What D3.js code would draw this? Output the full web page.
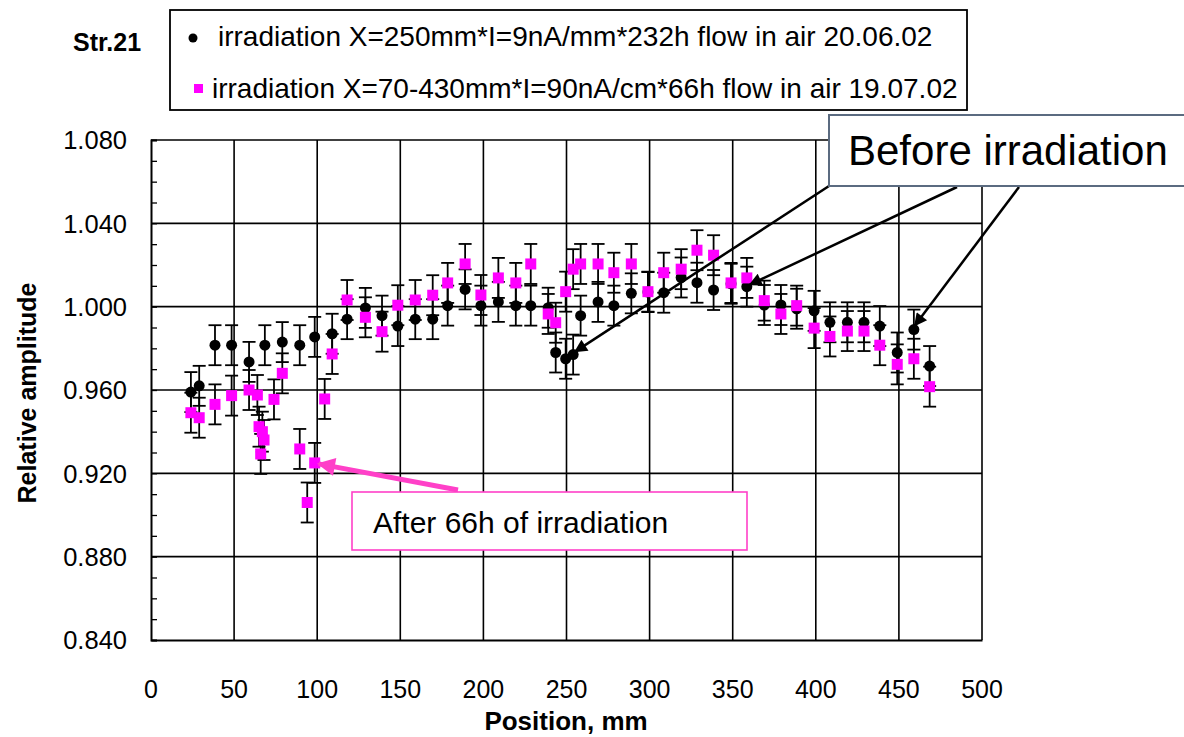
<!DOCTYPE html>
<html>
<head>
<meta charset="utf-8">
<script src="https://cdn.jsdelivr.net/npm/d3@7"></script>
<style>
  body { margin: 0; background: #fff; }
  text { font-family: "Liberation Sans", Arial, sans-serif; }
</style>
</head>
<body>
<svg id="main" width="1184" height="737"></svg>
<script>
// irradiation X=250mm, 20.06.02 (black circles)
const blackPos = [24, 29, 38.5, 48.5, 59, 68.5, 79, 89.5, 98.5, 109, 118, 129, 139, 148.5, 159, 169.5, 178.5, 189, 198.5, 209, 219.5, 228.5, 239, 243.5, 249.5, 254, 258.5, 269, 278.5, 289, 299, 308.5, 319, 328.5, 338.5, 349, 358.5, 369, 379, 388.5, 399, 408.5, 419, 429, 438.5, 449, 459, 468.5];
const blackAmp = [0.959, 0.962, 0.9815, 0.9815, 0.9735, 0.9815, 0.983, 0.9815, 0.9855, 0.987, 0.994, 0.9994, 0.9957, 0.9907, 0.994, 0.994, 1.0005, 1.0083, 1.0005, 1.0023, 1.0005, 1.0005, 0.9995, 0.978, 0.975, 0.977, 0.9957, 1.0023, 1.0005, 1.0064, 1.007, 1.0067, 1.014, 1.0115, 1.008, 1.011, 1.0096, 1.0008, 1.0008, 0.999, 0.998, 0.9925, 0.9925, 0.9925, 0.9907, 0.978, 0.989, 0.9715];
// irradiation X=70-430mm, 19.07.02 (magenta squares)
const pinkPos = [24, 29, 38.5, 48.5, 59, 64, 65, 67, 68, 66, 74, 79, 89.5, 94, 98.5, 104.5, 109, 118, 129, 139, 148.5, 159, 169.5, 178.5, 189, 198.5, 209, 219.5, 228.5, 239, 243.5, 249.5, 254, 258.5, 269, 278.5, 289, 299, 308.5, 319, 328.5, 338.5, 349, 358.5, 369, 379, 388.5, 399, 408.5, 419, 429, 438.5, 449, 459, 468.5];
const pinkAmp = [0.9491, 0.9467, 0.9531, 0.9573, 0.96, 0.9576, 0.9424, 0.94, 0.936, 0.9293, 0.9555, 0.968, 0.9317, 0.906, 0.925, 0.9557, 0.9773, 1.0032, 0.9949, 0.988, 1.0007, 1.0032, 1.0055, 1.0114, 1.0205, 1.0056, 1.0138, 1.0114, 1.0205, 0.9965, 0.9923, 1.0072, 1.018, 1.0205, 1.0205, 1.0163, 1.0205, 1.0072, 1.0163, 1.018, 1.0271, 1.0247, 1.0114, 1.0138, 1.0029, 0.9965, 1.0005, 0.9897, 0.9857, 0.9883, 0.9883, 0.9815, 0.9723, 0.975, 0.9616];
const errAmp = 0.0096;

const xTicks = [0, 50, 100, 150, 200, 250, 300, 350, 400, 450, 500];
const yTicks = [0.84, 0.88, 0.92, 0.96, 1.00, 1.04, 1.08];
const legendNames = ["irradiation X=250mm*I=9nA/mm*232h flow in air 20.06.02",
                     "irradiation X=70-430mm*I=90nA/cm*66h flow in air 19.07.02"];

const svg = d3.select('svg#main');
const x = d3.scaleLinear().domain([0, 500]).range([151, 982]);
const y = d3.scaleLinear().domain([0.84, 1.08]).range([640, 140]);
const magenta = "#ff00ff";
const hotpink = "#ff40c8";

// markers for arrows
const defs = svg.append("defs");
defs.append("marker").attr("id", "headBlack")
    .attr("markerUnits", "userSpaceOnUse")
    .attr("viewBox", "0 0 10 10").attr("refX", 9).attr("refY", 5)
    .attr("markerWidth", 16).attr("markerHeight", 13).attr("orient", "auto")
  .append("path").attr("d", "M0,0 L10,5 L0,10 z").attr("fill", "#000");
defs.append("marker").attr("id", "headPink")
    .attr("markerUnits", "userSpaceOnUse")
    .attr("viewBox", "0 0 10 10").attr("refX", 9).attr("refY", 5)
    .attr("markerWidth", 20).attr("markerHeight", 18).attr("orient", "auto")
  .append("path").attr("d", "M0,0 L10,5 L0,10 z").attr("fill", hotpink);

// grid
svg.append("g").selectAll("line").data(xTicks.slice(1)).join("line")
    .attr("x1", d => x(d)).attr("x2", d => x(d))
    .attr("y1", y(0.84)).attr("y2", y(1.08))
    .attr("stroke", "#000").attr("stroke-width", 1.6);
svg.append("g").selectAll("line").data(yTicks.slice(1)).join("line")
    .attr("x1", x(0)).attr("x2", x(500))
    .attr("y1", d => y(d)).attr("y2", d => y(d))
    .attr("stroke", "#000").attr("stroke-width", 1.6);

// axes
const yAxis = svg.append("g").attr("transform", `translate(${x(0)},0)`)
    .call(d3.axisRight(y).ticks(24).tickSize(6).tickFormat(""));
yAxis.select(".domain").attr("stroke-width", 2);
yAxis.selectAll(".tick line").attr("stroke-width", 1.3);
const xAxis = svg.append("g").attr("transform", `translate(0,${y(0.84)})`)
    .call(d3.axisBottom(x).tickValues(xTicks).tickSize(0).tickFormat(""));
xAxis.select(".domain").attr("stroke-width", 2);

svg.append("g").selectAll("text").data(yTicks).join("text")
    .attr("x", 127).attr("y", d => y(d)).attr("dy", "0.36em")
    .attr("text-anchor", "end").attr("font-size", 25.5)
    .text(d => d3.format(".3f")(d));
svg.append("g").selectAll("text").data(xTicks).join("text")
    .attr("x", d => x(d)).attr("y", 698)
    .attr("text-anchor", "middle").attr("font-size", 25)
    .text(d => d);

svg.append("text").attr("x", 566).attr("y", 730)
    .attr("text-anchor", "middle").attr("font-size", 26).attr("font-weight", "bold")
    .text("Position, mm");
svg.append("text").attr("transform", "translate(36,393) rotate(-90)")
    .attr("text-anchor", "middle").attr("font-size", 25).attr("font-weight", "bold")
    .text("Relative amplitude");

// error bars and markers
function drawSeries(pos, amp, shape) {
  const data = pos.map((p, i) => ({x: p, y: amp[i]}));
  const g = svg.append("g");
  const eb = g.selectAll("g.eb").data(data).join("g").attr("class", "eb")
      .attr("stroke", "#000").attr("stroke-width", 1.8);
  eb.append("line").attr("x1", d => x(d.x)).attr("x2", d => x(d.x))
      .attr("y1", d => y(d.y - errAmp)).attr("y2", d => y(d.y + errAmp));
  eb.append("line").attr("x1", d => x(d.x) - 6.5).attr("x2", d => x(d.x) + 6.5)
      .attr("y1", d => y(d.y + errAmp)).attr("y2", d => y(d.y + errAmp));
  eb.append("line").attr("x1", d => x(d.x) - 6.5).attr("x2", d => x(d.x) + 6.5)
      .attr("y1", d => y(d.y - errAmp)).attr("y2", d => y(d.y - errAmp));
  if (shape === "circle") {
    g.selectAll("circle").data(data).join("circle")
        .attr("cx", d => x(d.x)).attr("cy", d => y(d.y)).attr("r", 5.5)
        .attr("fill", "#000");
  } else {
    g.selectAll("rect").data(data).join("rect")
        .attr("x", d => x(d.x) - 5.5).attr("y", d => y(d.y) - 5.5)
        .attr("width", 11).attr("height", 11).attr("fill", magenta);
  }
}
drawSeries(blackPos, blackAmp, "circle");
drawSeries(pinkPos, pinkAmp, "square");

// legend
svg.append("text").attr("x", 73).attr("y", 51)
    .attr("font-size", 25).attr("font-weight", "bold").text("Str.21");
svg.append("rect").attr("x", 170).attr("y", 10).attr("width", 797).attr("height", 100)
    .attr("fill", "#fff").attr("stroke", "#000").attr("stroke-width", 1.8);
svg.append("circle").attr("cx", 193).attr("cy", 38).attr("r", 4.5).attr("fill", "#000");
svg.append("rect").attr("x", 194).attr("y", 84).attr("width", 9).attr("height", 9).attr("fill", magenta);
svg.append("text").attr("x", 218).attr("y", 46).attr("font-size", 28).text(legendNames[0]);
svg.append("text").attr("x", 212).attr("y", 98).attr("font-size", 28).text(legendNames[1]);

// "Before irradiation" callout
const tips = [[254, 0.977, 2, 3], [358.5, 1.0096, 3, 2], [459, 0.989, 1, 4]];
const starts = [[829, 186], [957, 187], [1019, 187]];
svg.append("g").selectAll("line").data(tips).join("line")
    .attr("x1", (d, i) => starts[i][0]).attr("y1", (d, i) => starts[i][1])
    .attr("x2", d => x(d[0]) + d[2]).attr("y2", d => y(d[1]) - d[3])
    .attr("stroke", "#000").attr("stroke-width", 2.5)
    .attr("marker-end", "url(#headBlack)");
svg.append("rect").attr("x", 829).attr("y", 115).attr("width", 360).attr("height", 71)
    .attr("fill", "#fff").attr("stroke", "#5b6b80").attr("stroke-width", 2);
svg.append("text").attr("x", 848).attr("y", 165).attr("font-size", 42)
    .text("Before irradiation");

// "After 66h" callout
svg.append("line").attr("x1", 458).attr("y1", 490)
    .attr("x2", x(98.5) + 4).attr("y2", y(0.925) + 1)
    .attr("stroke", hotpink).attr("stroke-width", 5)
    .attr("marker-end", "url(#headPink)");
svg.append("rect").attr("x", 352).attr("y", 492).attr("width", 395).attr("height", 58)
    .attr("fill", "#fff").attr("stroke", hotpink).attr("stroke-width", 1.6);
svg.append("text").attr("x", 373).attr("y", 533).attr("font-size", 30)
    .text("After 66h of irradiation");
</script>
</body>
</html>
